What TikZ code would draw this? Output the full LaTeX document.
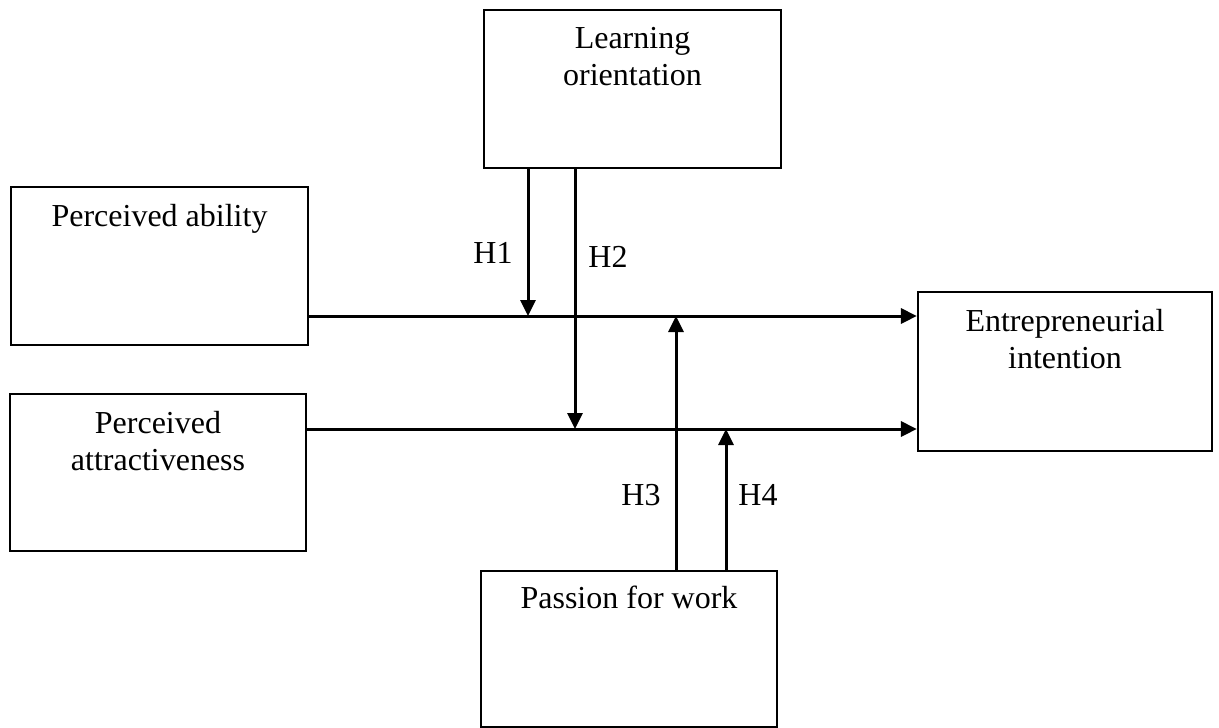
\documentclass[tikz,border=0pt]{standalone}
\usepackage{fontspec}
\setmainfont{Liberation Serif}
\usetikzlibrary{arrows.meta}
\begin{document}
\begin{tikzpicture}[x=1pt,y=-1pt,
  box/.style={draw=black, line width=2.2pt, inner sep=0pt, minimum width=#1},
  box/.default=297pt,
  txt/.style={inner sep=0pt, align=center, anchor=base, font=\fontsize{32}{37}\selectfont},
  arr/.style={line width=3pt, -{Triangle[length=16pt,width=15pt]}}]
\useasboundingbox (0,0) rectangle (1219,728);
% boxes
\node[box, minimum height=158pt] (lo) at (632.5,89) {};
\node[box, minimum height=158pt] (pa) at (159.5,266) {};
\node[box=296pt, minimum height=157pt] (pat) at (158,472.5) {};
\node[box=294pt, minimum height=159pt] (ei) at (1065,371.5) {};
\node[box=296pt, minimum height=156pt] (pw) at (629,649) {};
% texts (base anchor = baseline of the last line)
\node[txt] (lot) at ([yshift=-77pt]lo.north) {Learning\\orientation};
\node[txt] (pat1) at ([yshift=-41pt]pa.north) {Perceived ability};
\node[txt] (patt) at ([yshift=-78pt]pat.north) {Perceived\\attractiveness};
\node[txt] (eit) at ([yshift=-78pt]ei.north) {Entrepreneurial\\intention};
\node[txt] (pwt) at ([yshift=-39pt]pw.north) {Passion for work};
% helper coordinates
\coordinate (r1) at (0,316);
\coordinate (r2) at (0,429);
\coordinate (c1) at (528,0);
\coordinate (c2) at (575,0);
\coordinate (c3) at (676,0);
\coordinate (c4) at (726,0);
% connectors
\draw[arr] (pa.east |- r1) -- (ei.west |- r1);
\draw[arr] (pat.east |- r2) -- (ei.west |- r2);
\draw[arr] (lo.south -| c1) -- (c1 |- r1);
\draw[arr] (lo.south -| c2) -- (c2 |- r2);
\draw[arr] (pw.north -| c3) -- (c3 |- r1);
\draw[arr] (pw.north -| c4) -- (c4 |- r2);
% labels
\node[txt] (h1) at (493,263) {H1};
\node[txt] (h2) at (608,267) {H2};
\node[txt] (h3) at (641,505) {H3};
\node[txt] (h4) at (758,505) {H4};
\end{tikzpicture}
\end{document}
